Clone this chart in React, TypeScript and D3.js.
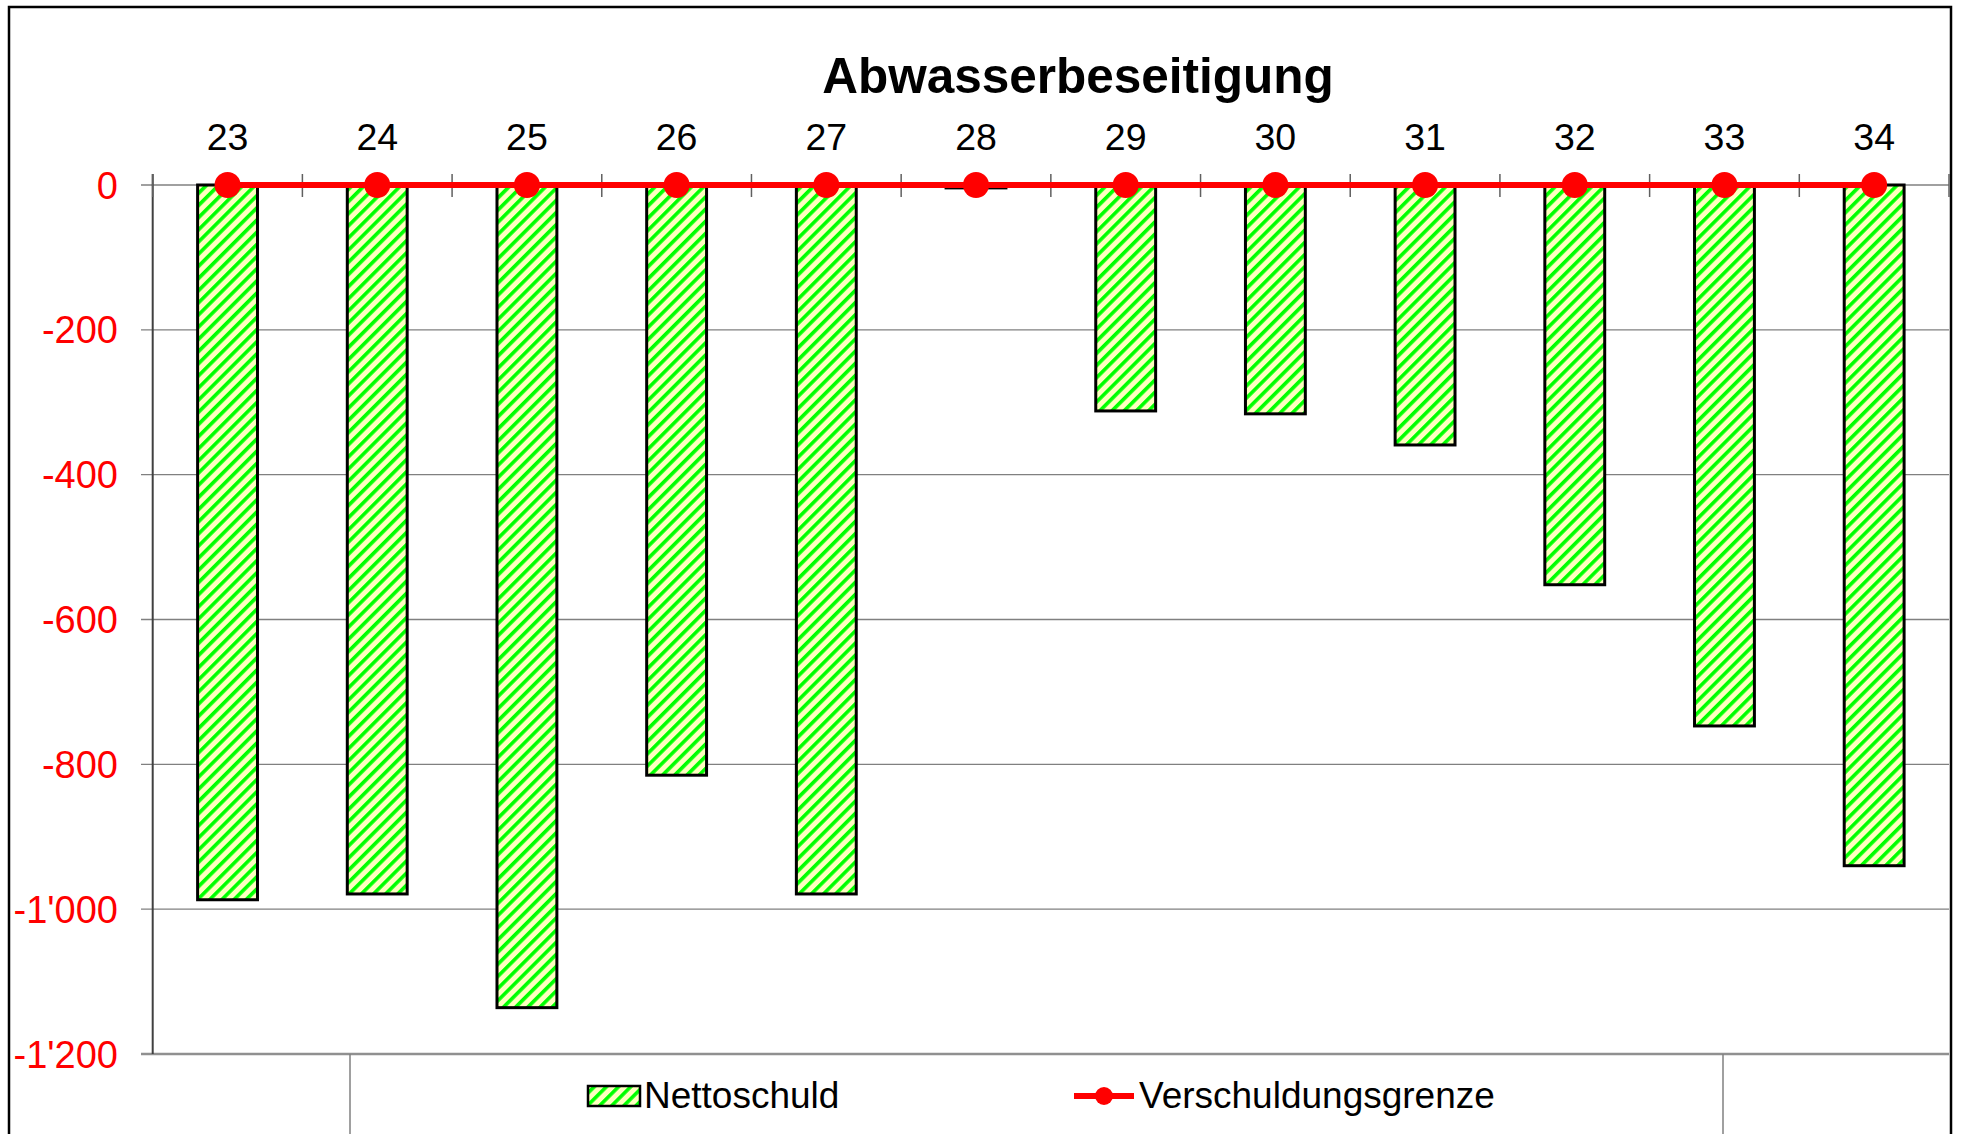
import React from "react";
import * as d3 from "d3";

const categories = ["23", "24", "25", "26", "27", "28", "29", "30", "31", "32", "33", "34"];
const nettoschuld = [-987, -979, -1136, -815, -979, -4, -312, -316, -359, -552, -747, -940];
const verschuldungsgrenze = [0, 0, 0, 0, 0, 0, 0, 0, 0, 0, 0, 0];
const yTicks = [0, -200, -400, -600, -800, -1000, -1200];
const title = "Abwasserbeseitigung";
const legendLabels = ["Nettoschuld", "Verschuldungsgrenze"];

const W = 1961;
const H = 1134;
const plotLeft = 152.7;
const plotRight = 1949;
const plotTop = 185;
const plotBottom = 1054;
const FONT = "'Liberation Sans', Arial, sans-serif";

const fmtLocale = d3.formatLocale({
  decimal: ".",
  thousands: "'",
  grouping: [3],
  currency: ["", ""],
  minus: "-",
});
const fmt = fmtLocale.format(",d");

export default function App() {
  const x = d3
    .scaleBand<string>()
    .domain(categories)
    .range([plotLeft, plotRight])
    .paddingInner(0.6)
    .paddingOuter(0.3);
  const y = d3.scaleLinear().domain([-1200, 0]).range([plotBottom, plotTop]);
  const step = x.step();
  const bw = x.bandwidth();
  const cx = (c: string) => (x(c) as number) + bw / 2;

  const line = d3
    .line<number>()
    .x((_, i) => cx(categories[i]))
    .y((d) => y(d));

  const boundaries = d3.range(categories.length + 1).map((k) => plotLeft + k * step);

  return (
    <svg
      width={W}
      height={H}
      style={{ position: "absolute", left: 0, top: 0, display: "block", background: "#fff" }}
    >
      <defs>
        <pattern
          id="hatch"
          patternUnits="userSpaceOnUse"
          width={8.6}
          height={8.6}
          patternTransform="rotate(45)"
        >
          <rect x={0} y={0} width={8.6} height={8.6} fill="#FFFFC0" />
          <rect x={0} y={0} width={3.6} height={8.6} fill="#00FF00" />
        </pattern>
      </defs>

      {/* outer border */}
      <rect x={9} y={7} width={1942} height={H + 20} fill="none" stroke="#000" strokeWidth={2.5} />

      {/* title */}
      <text
        x={1078}
        y={93}
        textAnchor="middle"
        fontFamily={FONT}
        fontWeight="bold"
        fontSize={49.5}
        fill="#000"
      >
        {title}
      </text>

      {/* gridlines */}
      {yTicks.map((t) => (
        <line
          key={"g" + t}
          x1={141}
          x2={plotRight}
          y1={y(t)}
          y2={y(t)}
          stroke={t === -1200 ? "#909090" : "#808080"}
          strokeWidth={t === -1200 ? 2.5 : 1.3}
        />
      ))}

      {/* y labels */}
      {yTicks.map((t) => (
        <text
          key={"yl" + t}
          x={118}
          y={y(t) + 13.5}
          textAnchor="end"
          fontFamily={FONT}
          fontSize={38}
          fill="#FF0000"
        >
          {fmt(t)}
        </text>
      ))}

      {/* left axis */}
      <line x1={plotLeft} x2={plotLeft} y1={174} y2={plotBottom} stroke="#404040" strokeWidth={2} />

      {/* category ticks */}
      {boundaries.map((bx, i) => (
        <line key={"ct" + i} x1={bx} x2={bx} y1={174} y2={197} stroke="#606060" strokeWidth={1.5} />
      ))}

      {/* category labels */}
      {categories.map((c) => (
        <text
          key={"cl" + c}
          x={cx(c)}
          y={150}
          textAnchor="middle"
          fontFamily={FONT}
          fontSize={37.5}
          fill="#000"
        >
          {c}
        </text>
      ))}

      {/* bars */}
      {nettoschuld.map((v, i) => (
        <rect
          key={"b" + i}
          x={x(categories[i])}
          y={y(0)}
          width={bw}
          height={Math.max(0, y(v) - y(0))}
          fill="url(#hatch)"
          stroke="#000"
          strokeWidth={3}
        />
      ))}

      {/* line series */}
      <path d={line(verschuldungsgrenze) || ""} fill="none" stroke="#FF0000" strokeWidth={6} />
      {verschuldungsgrenze.map((v, i) => (
        <circle key={"m" + i} cx={cx(categories[i])} cy={y(v)} r={13} fill="#FF0000" />
      ))}

      {/* legend box */}
      <line x1={350} x2={350} y1={plotBottom} y2={H} stroke="#808080" strokeWidth={1.5} />
      <line x1={1723} x2={1723} y1={plotBottom} y2={H} stroke="#808080" strokeWidth={1.5} />

      {/* legend items */}
      <rect x={588} y={1086} width={52} height={20} fill="url(#hatch)" stroke="#000" strokeWidth={2.5} />
      <text x={644} y={1108} fontFamily={FONT} fontSize={37} fill="#000">
        {legendLabels[0]}
      </text>
      <line x1={1074} x2={1134} y1={1096} y2={1096} stroke="#FF0000" strokeWidth={6} />
      <circle cx={1104} cy={1096} r={9} fill="#FF0000" />
      <text x={1139} y={1108} fontFamily={FONT} fontSize={37} fill="#000">
        {legendLabels[1]}
      </text>
    </svg>
  );
}
